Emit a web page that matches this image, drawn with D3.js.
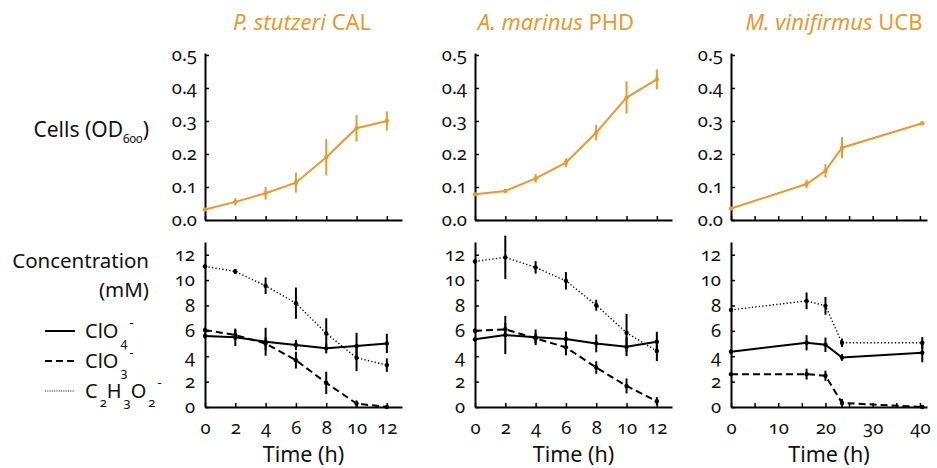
<!DOCTYPE html>
<html><head><meta charset="utf-8">
<script src="https://cdn.jsdelivr.net/npm/d3@7"></script>
<style>
body{margin:0;background:#fff;}
svg text{font-family:"Noto Sans",Lato,sans-serif;font-variant-numeric:oldstyle-nums;}
</style></head><body>
<svg id="c" width="937" height="468"></svg>
<script>
// ---------- data ----------
const timesAB = [0, 2, 4, 6, 8, 10, 12];
const timesC = [0, 16, 20, 23.5, 40.5];

const cellsA = [0.032, 0.055, 0.081, 0.113, 0.19, 0.278, 0.30];
const cellsAErr = [0.003, 0.011, 0.019, 0.03, 0.055, 0.04, 0.029];
const cellsB = [0.078, 0.088, 0.126, 0.174, 0.265, 0.371, 0.426];
const cellsBErr = [0.003, 0.006, 0.013, 0.013, 0.024, 0.049, 0.03];
const cellsC = [0.035, 0.109, 0.149, 0.219, 0.293];
const cellsCErr = [0.003, 0.012, 0.02, 0.032, 0.003];

const clo4A = [5.59, 5.49, 5.14, 4.88, 4.62, 4.8, 5.01];
const clo4AErr = [0.2, 0.69, 1.1, 0.4, 0.4, 1.05, 0.76];
const clo3A = [6.07, 5.67, 5.0, 3.69, 1.9, 0.27, 0.0];
const clo3AErr = [0.2, 0.4, 0.5, 0.66, 0.88, 0.25, 0.1];
const acA = [11.08, 10.68, 9.55, 8.18, 5.8, 3.88, 3.3];
const acAErr = [0.2, 0.2, 0.65, 1.23, 1.19, 1.05, 0.53];

const clo4B = [5.33, 5.67, 5.49, 5.36, 5.01, 4.75, 5.14];
const clo4BErr = [0.2, 1.5, 0.62, 0.59, 0.7, 0.75, 0.79];
const clo3B = [6.01, 6.12, 5.41, 4.7, 3.11, 1.66, 0.45];
const clo3BErr = [0.2, 0.5, 0.4, 0.63, 0.49, 0.59, 0.33];
const acB = [11.47, 11.79, 11.0, 9.94, 8.02, 5.85, 4.41];
const acBErr = [0.2, 1.71, 0.49, 0.69, 0.43, 1.49, 0.79];

const clo4C = [4.35, 5.06, 4.9, 3.9, 4.27];
const clo4CErr = [0.2, 0.6, 0.57, 0.26, 0.75];
const clo3C = [2.59, 2.59, 2.46, 0.32, 0.0];
const clo3CErr = [0.1, 0.43, 0.4, 0.32, 0.05];
const acC = [7.65, 8.36, 7.97, 5.06, 5.06];
const acCErr = [0.1, 0.66, 0.7, 0.33, 0.45];

const cellTicks = [0, 0.1, 0.2, 0.3, 0.4, 0.5];
const concTicks = [0, 2, 4, 6, 8, 10, 12];
const timeTicksAB = [0, 2, 4, 6, 8, 10, 12];
const timeTicksC = [0, 5, 10, 15, 20, 25, 30, 35, 40];
const timeLabelsC = [0, 10, 20, 30, 40];

const titles = [["P. stutzeri", " CAL"], ["A. marinus", " PHD"], ["M. vinifirmus", " UCB"]];

// ---------- drawing ----------
const ORANGE = "#E69A33";
const svg = d3.select("#c");

const panels = [
  {times: timesAB, xDom: [0, 13], xr: [205, 402], ticks: timeTicksAB, labels: timeTicksAB,
   cells: cellsA, cellsErr: cellsAErr, titleX: 302,
   conc: [[clo4A, clo4AErr], [clo3A, clo3AErr], [acA, acAErr]], title: titles[0]},
  {times: timesAB, xDom: [0, 13], xr: [475, 672], ticks: timeTicksAB, labels: timeTicksAB,
   cells: cellsB, cellsErr: cellsBErr, titleX: 556,
   conc: [[clo4B, clo4BErr], [clo3B, clo3BErr], [acB, acBErr]], title: titles[1]},
  {times: timesC, xDom: [0, 41.5], xr: [731, 927], ticks: timeTicksC, labels: timeLabelsC,
   cells: cellsC, cellsErr: cellsCErr, titleX: 834,
   conc: [[clo4C, clo4CErr], [clo3C, clo3CErr], [acC, acCErr]], title: titles[2]}
];

const styles = [
  {w: 2, dash: null},
  {w: 2, dash: "7,4"},
  {w: 1.4, dash: "1.3,2.2"}
];

function styleAxis(g) {
  g.select(".domain").attr("stroke", "#000").attr("stroke-width", 2);
  g.selectAll(".tick line").attr("stroke", "#000").attr("stroke-width", 1.5);
  g.selectAll(".tick text").attr("fill", "#111").attr("font-size", 18.5);
}

panels.forEach(p => {
  const x = d3.scaleLinear().domain(p.xDom).range(p.xr);
  const yT = d3.scaleLinear().domain([0, 0.506]).range([220, 53]);
  const yB = d3.scaleLinear().domain([0, 13]).range([407, 242]);

  // top axes
  const gxT = svg.append("g").attr("transform", "translate(0,220)")
    .call(d3.axisBottom(x).tickValues(p.ticks).tickSizeInner(-4).tickSizeOuter(0).tickFormat(""));
  styleAxis(gxT);
  const gyT = svg.append("g").attr("transform", `translate(${p.xr[0]},0)`)
    .call(d3.axisLeft(yT).tickValues(cellTicks).tickSizeInner(-4).tickSizeOuter(0).tickPadding(8).tickFormat(d3.format(".1f")));
  styleAxis(gyT);

  // bottom axes
  const gxB = svg.append("g").attr("transform", "translate(0,407)")
    .call(d3.axisBottom(x).tickValues(p.ticks).tickSizeInner(-4).tickSizeOuter(0).tickPadding(14)
      .tickFormat(d => p.labels.includes(d) ? d : ""));
  styleAxis(gxB);
  const gyB = svg.append("g").attr("transform", `translate(${p.xr[0]},0)`)
    .call(d3.axisLeft(yB).tickValues(concTicks).tickSizeInner(-4).tickSizeOuter(0).tickPadding(10));
  styleAxis(gyB);

  // cells line
  const lineT = d3.line().x((d, i) => x(p.times[i])).y(d => yT(d));
  svg.append("path").datum(p.cells).attr("d", lineT)
    .attr("fill", "none").attr("stroke", ORANGE).attr("stroke-width", 2);
  svg.append("g").selectAll("line").data(p.cells).join("line")
    .attr("x1", (d, i) => x(p.times[i])).attr("x2", (d, i) => x(p.times[i]))
    .attr("y1", (d, i) => yT(d - p.cellsErr[i])).attr("y2", (d, i) => yT(d + p.cellsErr[i]))
    .attr("stroke", ORANGE).attr("stroke-width", 2);
  svg.append("g").selectAll("circle").data(p.cells).join("circle")
    .attr("cx", (d, i) => x(p.times[i])).attr("cy", d => yT(d)).attr("r", 2.2).attr("fill", ORANGE);

  // concentration lines
  const lineB = d3.line().x((d, i) => x(p.times[i])).y(d => yB(d));
  p.conc.forEach(([vals, errs], k) => {
    const s = styles[k];
    svg.append("path").datum(vals).attr("d", lineB)
      .attr("fill", "none").attr("stroke", "#000").attr("stroke-width", s.w)
      .attr("stroke-dasharray", s.dash);
    svg.append("g").selectAll("line").data(vals).join("line")
      .attr("x1", (d, i) => x(p.times[i])).attr("x2", (d, i) => x(p.times[i]))
      .attr("y1", (d, i) => yB(d - errs[i])).attr("y2", (d, i) => yB(d + errs[i]))
      .attr("stroke", "#000").attr("stroke-width", 2);
    svg.append("g").selectAll("circle").data(vals).join("circle")
      .attr("cx", (d, i) => x(p.times[i])).attr("cy", d => yB(d)).attr("r", 2.2).attr("fill", "#000");
  });

  // title
  const t = svg.append("text").attr("x", p.titleX).attr("y", 30).attr("text-anchor", "middle")
    .attr("font-size", 22).attr("fill", ORANGE);
  t.append("tspan").attr("font-style", "italic").text(p.title[0]);
  t.append("tspan").text(p.title[1]);

  // x label
  const cx = (p.xr[0] + p.xr[1]) / 2;
  svg.append("text").attr("x", cx).attr("y", 462).attr("text-anchor", "middle")
    .attr("font-size", 21.5).attr("fill", "#111").text("Time (h)");
});

// row labels
const cl = svg.append("text").attr("x", 149).attr("y", 137).attr("text-anchor", "end")
  .attr("font-size", 21).attr("fill", "#111");
cl.append("tspan").text("Cells (OD");
cl.append("tspan").attr("font-size", 12).attr("dy", 6).text("600");
cl.append("tspan").attr("dy", -6).text(")");

svg.append("text").attr("x", 149).attr("y", 268).attr("text-anchor", "end")
  .attr("font-size", 20.5).attr("fill", "#111").text("Concentration");
svg.append("text").attr("x", 149).attr("y", 297).attr("text-anchor", "end")
  .attr("font-size", 20.5).attr("fill", "#111").text("(mM)");

// legend
const legendItems = [
  [["ClO", 0], ["4", 1], ["-", 2]],
  [["ClO", 0], ["3", 1], ["-", 2]],
  [["C", 0], ["2", 1], ["H", 0], ["3", 1], ["O", 0], ["2", 1], ["-", 2]]
];
const legendY = [331, 361, 391];
legendItems.forEach((parts, k) => {
  const s = styles[k];
  const y = legendY[k];
  svg.append("line").attr("x1", 45).attr("x2", 75).attr("y1", y).attr("y2", y)
    .attr("stroke", "#000").attr("stroke-width", k === 2 ? 1 : s.w)
    .attr("stroke-dasharray", k === 2 ? "1,1.3" : s.dash);
  const t = svg.append("text").attr("x", 85).attr("y", y + 7).attr("font-size", 20).attr("fill", "#111");
  let cur = 0;
  parts.forEach(([txt, kind]) => {
    const target = kind === 1 ? 9 : kind === 2 ? -11 : 0;
    const ts = t.append("tspan").attr("dy", target - cur).text(txt);
    if (kind === 1) ts.attr("font-size", 13).attr("dx", 2);
    if (kind === 2) ts.attr("font-size", 13).attr("dx", 2);
    cur = target;
  });
});
</script>
</body></html>
